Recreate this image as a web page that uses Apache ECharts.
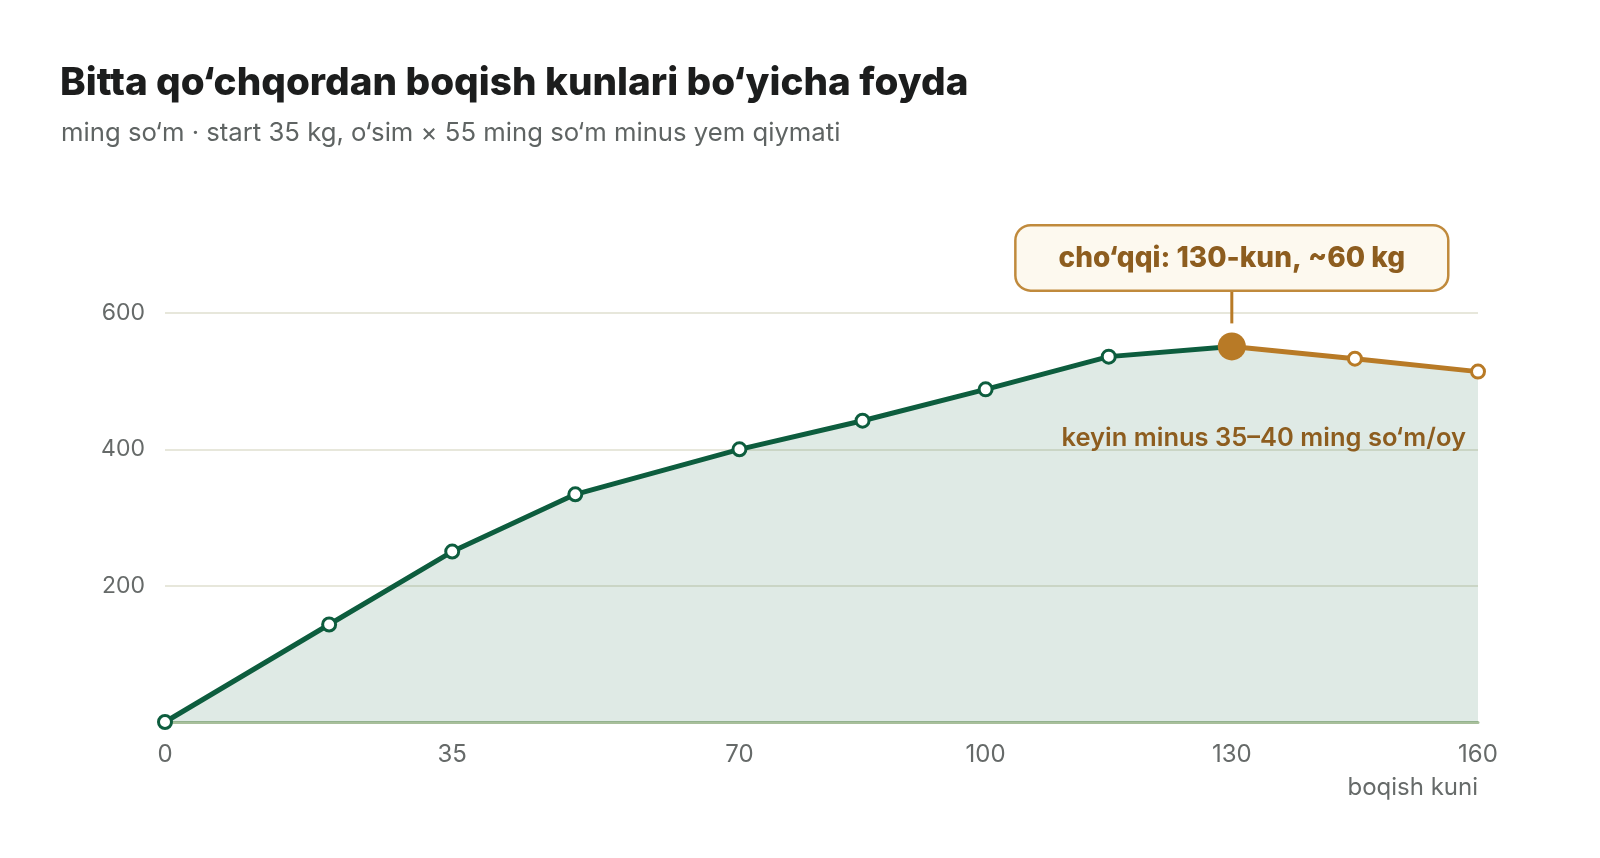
<!DOCTYPE html>
<html>
<head>
<meta charset="utf-8">
<script src="https://cdn.jsdelivr.net/npm/echarts@6/dist/echarts.min.js"></script>
<style>
html,body{margin:0;padding:0;background:#fff;}
#chart{width:1600px;height:858px;}
</style>
</head>
<body>
<div id="chart"></div>
<script>
const titleText = 'Bitta qo‘chqordan boqish kunlari bo‘yicha foyda';
const subtitleText = 'ming so‘m · start 35 kg, o‘sim × 55 ming so‘m minus yem qiymati';
const xAxisName = 'boqish kuni';
const days = [0, 20, 35, 50, 70, 85, 100, 115, 130, 145, 160];
const profit = [0, 143, 250, 334, 400, 442, 488, 536, 551, 533, 514];
const peakIndex = 8;
const xTickLabels = [0, 35, 70, 100, 130, 160];
const yTickValues = [0, 200, 400, 600];
const peakLabel = 'cho‘qqi: 130-kun, ~60 kg';
const declineNote = 'keyin minus 35–40 ming so‘m/oy';

const GREEN = '#0d5d3e';
const ORANGE = '#b87a26';
const BROWN = '#8d5d1f';
const FONT = 'Inter, "Noto Sans", sans-serif';
const AREA = 'rgba(14,94,62,0.135)';

const greenData = days.slice(0, peakIndex + 1).map((d, i) => [d, profit[i]]);
const orangeData = days.slice(peakIndex).map((d, i) => [d, profit[peakIndex + i]]);
const peakPoint = [[days[peakIndex], profit[peakIndex]]];

const chart = echarts.init(document.getElementById('chart'), null, {renderer: 'canvas'});
chart.setOption({
  backgroundColor: '#ffffff',
  animation: false,
  textStyle: {fontFamily: FONT},
  title: [
    {text: titleText, left: 55, top: 59,
     textStyle: {fontFamily: FONT, fontSize: 38.7, fontWeight: 800, color: '#1c1d1d'}},
    {text: subtitleText, left: 56, top: 115,
     textStyle: {fontFamily: FONT, fontSize: 25.7, fontWeight: 'normal', color: '#5f6463'}}
  ],
  grid: {left: 165, right: 122, top: 313, bottom: 136, containLabel: false},
  xAxis: {
    type: 'value', min: 0, max: 160,
    name: xAxisName, nameLocation: 'end', nameGap: 0,
    nameTextStyle: {fontFamily: FONT, fontSize: 24, color: '#666a69', align: 'right', verticalAlign: 'top', padding: [54, 0, 0, 0]},
    axisLine: {show: true, lineStyle: {color: '#a8bf9b', width: 3}},
    axisTick: {show: false},
    splitLine: {show: false},
    axisLabel: {customValues: xTickLabels, margin: 21, fontFamily: FONT, fontSize: 24, color: '#666a69'}
  },
  yAxis: {
    type: 'value', min: 0, max: 600, interval: 200,
    axisLine: {show: false}, axisTick: {show: false},
    splitLine: {show: true, lineStyle: {color: '#dfdfcf', width: 1.5}},
    axisLabel: {showMinLabel: false, margin: 20, fontFamily: FONT, fontSize: 23, color: '#666a69'}
  },
  series: [
    {
      type: 'line', name: 'growth', data: greenData, z: 3,
      symbol: 'circle', symbolSize: 13, showAllSymbol: true,
      lineStyle: {color: GREEN, width: 5},
      itemStyle: {color: '#ffffff', borderColor: GREEN, borderWidth: 3, opacity: 1},
      areaStyle: {color: AREA, opacity: 1}
    },
    {
      type: 'line', name: 'decline', data: orangeData, z: 3,
      symbol: 'circle', symbolSize: 13, showAllSymbol: true,
      lineStyle: {color: ORANGE, width: 5},
      itemStyle: {color: '#ffffff', borderColor: ORANGE, borderWidth: 3, opacity: 1},
      areaStyle: {color: AREA, opacity: 1}
    },
    {
      type: 'scatter', name: 'connector', data: peakPoint, z: 4,
      symbol: 'rect', symbolSize: [3, 34], symbolOffset: [0, -40],
      itemStyle: {color: ORANGE, opacity: 1}, silent: true
    },
    {
      type: 'scatter', name: 'peak', data: peakPoint, z: 5,
      symbol: 'circle', symbolSize: 28,
      itemStyle: {color: ORANGE, opacity: 1},
      label: {
        show: true, position: 'top', distance: 43,
        formatter: () => peakLabel,
        fontFamily: FONT, fontSize: 28, fontWeight: 800, color: BROWN,
        backgroundColor: '#fdf9ef', borderColor: '#c08a3c', borderWidth: 2.5,
        borderRadius: 14, padding: [18, 42, 17, 42], opacity: 1
      }
    }
  ],
  graphic: [
    {type: 'text', right: 134, top: 425, z: 10,
     style: {text: declineNote, fontFamily: FONT, fontSize: 25.5, fontWeight: 600, fill: BROWN}}
  ]
});
</script>
</body>
</html>
